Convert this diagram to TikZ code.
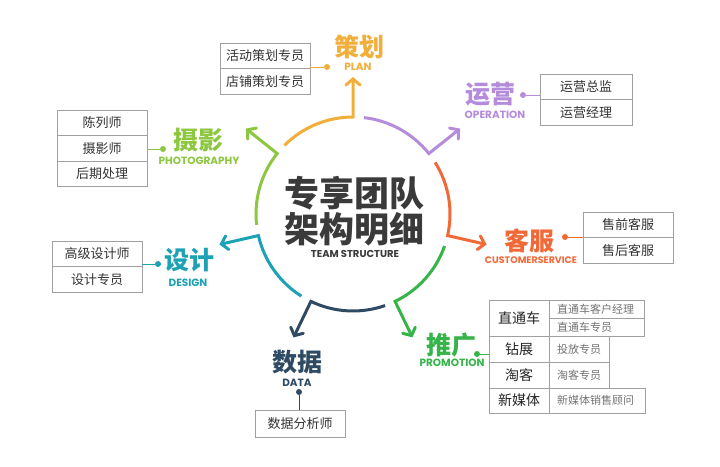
\documentclass[tikz,border=0pt]{standalone}
\usepackage{fontspec}
\newfontfamily\cjk{Noto Sans CJK SC}
\newfontfamily\enfont{Poppins}
\usetikzlibrary{positioning, arrows.meta}
\definecolor{planc}{HTML}{F2AE3A}
\definecolor{operc}{HTML}{B48CDB}
\definecolor{servc}{HTML}{F26938}
\definecolor{promc}{HTML}{36B44A}
\definecolor{datac}{HTML}{2F4A63}
\definecolor{desc}{HTML}{1CA2B4}
\definecolor{photc}{HTML}{8DC63F}
\definecolor{titlec}{HTML}{3A3A3A}
\definecolor{boxc}{HTML}{A0A0A0}
\definecolor{textc}{HTML}{333333}
\tikzset{>=latex,
  ring/.style={line width=3pt, line join=miter, -{Straight Barb[length=6pt, width=14pt, line cap=round]}},
  head/.style={font=\cjk\bfseries\fontsize{25}{26}\selectfont, inner sep=0pt},
  sub/.style={font=\enfont\bfseries\fontsize{10.5}{11}\selectfont, inner sep=0pt},
  dot/.style={circle, fill=#1, inner sep=0pt, minimum size=6pt},
  link/.style={draw=#1, line width=1pt},
  cell/.style={draw=boxc, line width=0.8pt, fill=white, inner sep=0pt, outer sep=0pt,
    minimum width=90pt, minimum height=25.5pt, text=textc, font=\cjk\fontsize{13}{14}\selectfont},
  lcell/.style={cell, minimum width=60pt, font=\cjk\fontsize{14}{15}\selectfont, text=black!85},
  rcell/.style={cell, minimum width=0pt, inner xsep=8pt, text width=#1-16pt, align=left,
    text=black!55, font=\cjk\fontsize{11}{12}\selectfont}
}
\begin{document}
\begin{tikzpicture}[x=1pt, y=1pt]
  \useasboundingbox (0,0) rectangle (720,-466);
  % Ring
  \coordinate (hub) at (353,-214);
  \foreach \i/\col in {0/planc,1/operc,2/servc,3/promc,4/datac,5/desc,6/photc}{
    \pgfmathsetmacro{\e}{90-360/7*\i}
    \pgfmathsetmacro{\s}{\e+45}
    \draw[ring, \col] ([shift={(\s:97)}]hub) arc[start angle=\s, end angle=\e, radius=97] -- ++(\e:40);
  }
  % Title
  \node[font=\cjk\bfseries\fontsize{35}{36}\selectfont, text=titlec, align=center, inner sep=0pt] (ttl) at (354,-211) {专享团队\\架构明细};
  \node[sub, text=titlec, font=\enfont\bfseries\fontsize{10}{10}\selectfont] (ttlen) at (355,-254) {TEAM STRUCTURE};

  % Plan
  \node[head, text=planc] (plan) at (359,-47) {策划};
  \node[sub, text=planc] (planen) at (358,-67) {PLAN};
  \node[dot=planc] (plandot) at (327,-67) {};
  \node[cell, anchor=north east] (plan1) at (310,-43) {活动策划专员};
  \node[cell, below=0pt of plan1] (plan2) {店铺策划专员};
  \draw[link=planc] (plandot) -- (plandot -| plan1.east);

  % Operation
  \node[head, text=operc] (oper) at (490,-94) {运营};
  \node[sub, text=operc] (operen) at (495,-115) {OPERATION};
  \node[dot=operc] (operdot) at (523,-95) {};
  \node[cell, anchor=north west, minimum width=92pt] (oper1) at (540,-74) {运营总监};
  \node[cell, below=0pt of oper1, minimum width=92pt] (oper2) {运营经理};
  \draw[link=operc] (operdot) -- (operdot -| oper1.west);

  % Customer service
  \node[head, text=servc] (serv) at (529,-241) {客服};
  \node[sub, text=servc, font=\enfont\bfseries\fontsize{9.5}{10}\selectfont] (serven) at (531,-260) {CUSTOMERSERVICE};
  \node[dot=servc] (servdot) at (565,-237) {};
  \node[cell, anchor=north west] (serv1) at (583,-212) {售前客服};
  \node[cell, below=0pt of serv1] (serv2) {售后客服};
  \draw[link=servc] (servdot) -- (servdot -| serv1.west);

  % Promotion
  \node[head, text=promc] (prom) at (451,-345) {推广};
  \node[sub, text=promc] (promen) at (452,-363) {PROMOTION};
  \node[dot=promc] (promdot) at (477,-354) {};
  \node[lcell, anchor=north west, minimum height=36pt] (pl1) at (489,-300) {直通车};
  \node[rcell=95pt, anchor=north west, minimum height=18pt] (pr1a) at (pl1.north east) {直通车客户经理};
  \node[rcell=95pt, below=0pt of pr1a, minimum height=18pt] (pr1b) {直通车专员};
  \node[lcell, below=0pt of pl1, minimum height=26pt] (pl2) {钻展};
  \node[rcell=60pt, right=0pt of pl2, minimum height=26pt] (pr2) {投放专员};
  \node[lcell, below=0pt of pl2, minimum height=26pt] (pl3) {淘客};
  \node[rcell=60pt, right=0pt of pl3, minimum height=26pt] (pr3) {淘客专员};
  \node[lcell, below=0pt of pl3, minimum height=25pt] (pl4) {新媒体};
  \node[rcell=96pt, right=0pt of pl4, minimum height=25pt] (pr4) {新媒体销售顾问};
  \draw[link=promc] (promdot) -- (promdot -| pl2.west);

  % Data
  \node[head, text=datac] (data) at (297,-362) {数据};
  \node[sub, text=datac] (dataen) at (297,-383) {DATA};
  \node[dot=datac] (datadot) at (299,-392) {};
  \node[cell, anchor=north, minimum height=27pt] (data1) at (300,-410) {数据分析师};
  \draw[link=datac] (datadot) -- (datadot |- data1.north);

  % Design
  \node[head, text=desc] (des) at (189,-260) {设计};
  \node[sub, text=desc] (desen) at (188,-283) {DESIGN};
  \node[dot=desc] (desdot) at (158,-264) {};
  \node[cell, anchor=north east] (des1) at (142,-241) {高级设计师};
  \node[cell, below=0pt of des1] (des2) {设计专员};
  \draw[link=desc] (desdot) -- (desdot -| des1.east);

  % Photography
  \node[head, text=photc] (phot) at (198,-140) {摄影};
  \node[sub, text=photc] (photen) at (199,-161) {PHOTOGRAPHY};
  \node[dot=photc] (photdot) at (163,-149) {};
  \node[cell, anchor=north east] (phot1) at (147,-110) {陈列师};
  \node[cell, below=0pt of phot1] (phot2) {摄影师};
  \node[cell, below=0pt of phot2] (phot3) {后期处理};
  \draw[link=photc] (photdot) -- (photdot -| phot1.east);
\end{tikzpicture}
\end{document}
